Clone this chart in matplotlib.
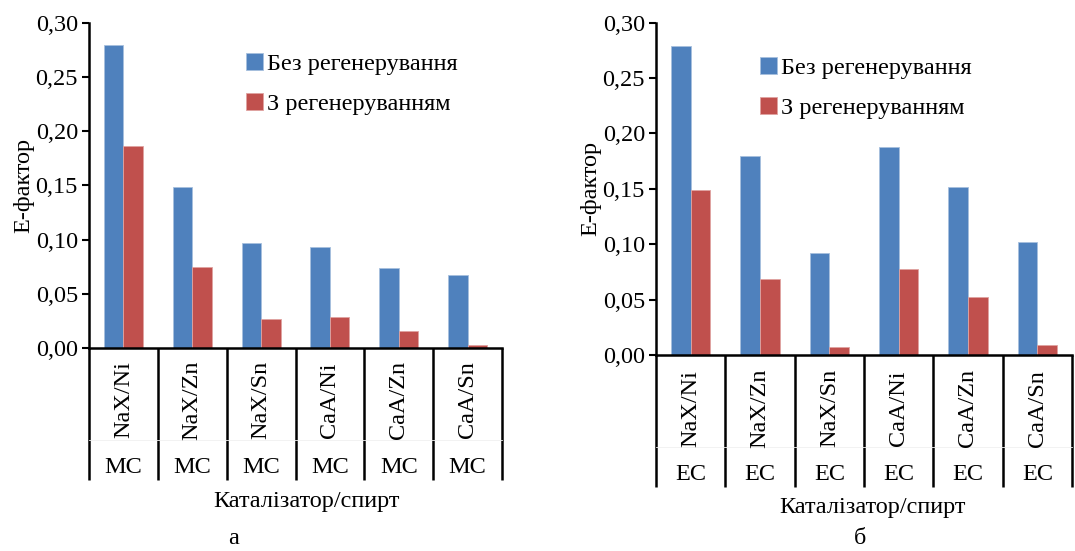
import numpy as np
import matplotlib
matplotlib.use("Agg")
import matplotlib.pyplot as plt
import matplotlib.transforms as mtransforms

plt.rcParams['font.family'] = ['Liberation Serif', 'DejaVu Serif']

categories = ["NaX/Ni", "NaX/Zn", "NaX/Sn", "CaA/Ni", "CaA/Zn", "CaA/Sn"]
alcohol_a = "МС"
alcohol_b = "ЕС"
series_names = ["Без регенерування", "З регенеруванням"]

a_no_regen = [0.280, 0.149, 0.097, 0.093, 0.074, 0.067]
a_regen = [0.186, 0.075, 0.027, 0.029, 0.016, 0.003]

b_no_regen = [0.279, 0.180, 0.092, 0.188, 0.152, 0.102]
b_regen = [0.149, 0.069, 0.007, 0.078, 0.052, 0.009]

yticks = [0.00, 0.05, 0.10, 0.15, 0.20, 0.25, 0.30]
ytick_labels = ["0,00", "0,05", "0,10", "0,15", "0,20", "0,25", "0,30"]

BLUE = "#4F81BD"
RED = "#C0504D"
FS = 17.5

fig = plt.figure(figsize=(10.75, 5.51), dpi=100)
W, H = 1075, 551


def make_panel(rect, s1, s2, alc, sep_bottom, lab_y, alc_y, leg_pos):
    ax = fig.add_axes(rect)
    x = np.arange(len(categories))
    bw = 0.283
    ax.bar(x - bw / 2, s1, width=bw, color=BLUE, edgecolor="#A7C0DE", linewidth=0.6,
           label=series_names[0])
    ax.bar(x + bw / 2, s2, width=bw, color=RED, edgecolor="#E0A3A1", linewidth=0.6,
           label=series_names[1])
    ax.set_xlim(-0.5, len(categories) - 0.5)
    ax.set_ylim(0, 0.30)
    ax.set_yticks(yticks)
    ax.set_yticklabels(ytick_labels, fontsize=FS)
    ax.tick_params(axis='y', direction='out', length=5, width=1.5, pad=3)
    ax.set_xticks([])
    for s in ['top', 'right']:
        ax.spines[s].set_visible(False)
    for s in ['left', 'bottom']:
        ax.spines[s].set_linewidth(1.8)
    ax.set_ylabel("Е-фактор", fontsize=FS, labelpad=1)
    trans = mtransforms.blended_transform_factory(ax.transData, ax.transAxes)
    for i in range(len(categories) + 1):
        xb = -0.5 + i
        ax.plot([xb, xb], [0, sep_bottom], transform=trans, color='black',
                linewidth=1.8, clip_on=False, solid_capstyle='butt')
    ax.plot([-0.5, len(categories) - 0.5], [alc_y + 0.085, alc_y + 0.085], transform=trans,
            color='#F0F0F0', linewidth=0.6, clip_on=False)
    for i, c in enumerate(categories):
        ax.text(i, lab_y, c, transform=trans, rotation=90, ha='center', va='center',
                fontsize=FS)
        ax.text(i, alc_y, alc, transform=trans, ha='center', va='center', fontsize=FS)
    ax.legend(loc='center left', bbox_to_anchor=leg_pos, frameon=False, fontsize=FS,
              handlelength=0.7, handleheight=0.7, handletextpad=0.15,
              labelspacing=0.75, borderpad=0, borderaxespad=0)
    return ax


axA = make_panel([89 / W, 1 - 348 / H, (502 - 89) / W, (348 - 23) / H],
                 a_no_regen, a_regen, alcohol_a, -0.406, -0.16, -0.369,
                 ((246 - 89) / 413, 1 - (84 - 23) / 325))
axB = make_panel([656 / W, 1 - 355 / H, (1072 - 656) / W, (355 - 22.7) / H],
                 b_no_regen, b_regen, alcohol_b, -0.398, -0.16, -0.361,
                 ((760 - 656) / 416, 1 - (88 - 22.7) / 332))

fig.text(306 / W, 1 - 502 / H, "Каталізатор/спирт", ha='center', va='center', fontsize=FS)
fig.text(872 / W, 1 - 508 / H, "Каталізатор/спирт", ha='center', va='center', fontsize=FS)
fig.text(234 / W, 1 - 538 / H, "а", ha='center', va='center', fontsize=FS)
fig.text(860 / W, 1 - 538 / H, "б", ha='center', va='center', fontsize=FS)

fig.savefig("out.png", dpi=100)
